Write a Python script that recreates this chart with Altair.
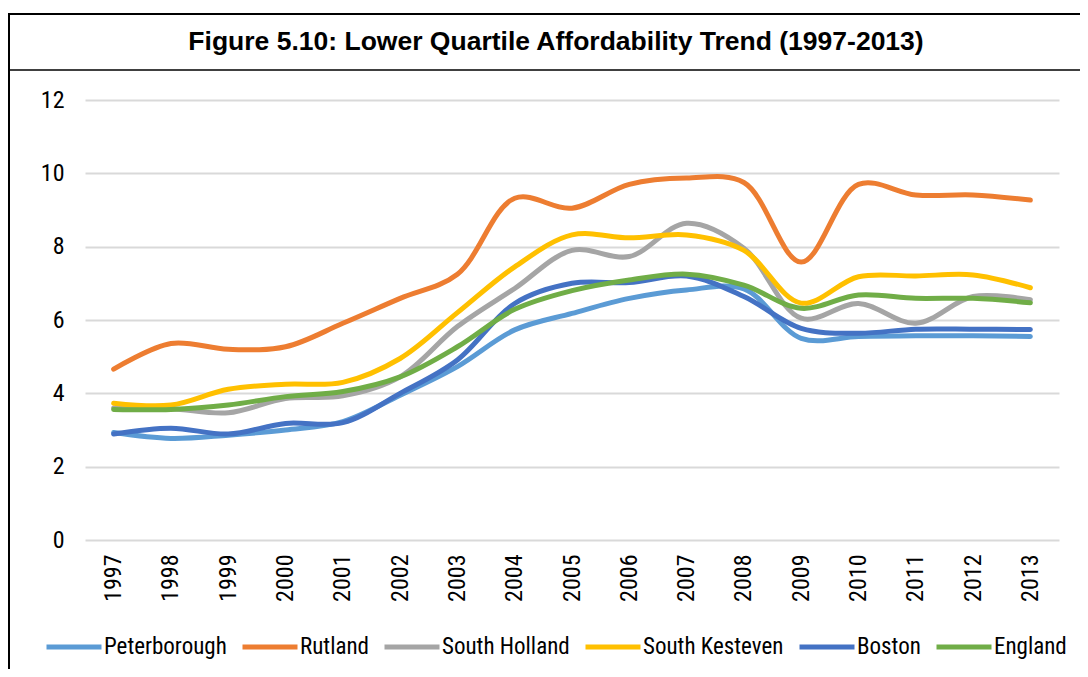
import altair as alt
import pandas as pd

years = [str(y) for y in range(1997, 2014)]

peterborough = [2.93, 2.77, 2.86, 3.0, 3.23, 3.95, 4.73, 5.73, 6.18, 6.59, 6.82, 6.85, 5.5, 5.55, 5.57, 5.57, 5.55]
rutland = [4.66, 5.36, 5.2, 5.27, 5.91, 6.59, 7.25, 9.32, 9.05, 9.7, 9.87, 9.75, 7.58, 9.7, 9.41, 9.41, 9.27]
south_holland = [3.6, 3.58, 3.47, 3.86, 3.93, 4.45, 5.82, 6.86, 7.9, 7.73, 8.64, 7.96, 6.05, 6.45, 5.91, 6.64, 6.55]
south_kesteven = [3.73, 3.68, 4.11, 4.25, 4.3, 4.95, 6.2, 7.45, 8.32, 8.24, 8.32, 7.9, 6.46, 7.18, 7.2, 7.23, 6.88]
boston = [2.89, 3.05, 2.89, 3.18, 3.2, 4.0, 4.91, 6.45, 7.0, 7.02, 7.2, 6.64, 5.77, 5.64, 5.75, 5.75, 5.74]
england = [3.56, 3.56, 3.68, 3.91, 4.05, 4.45, 5.27, 6.29, 6.8, 7.09, 7.25, 6.95, 6.32, 6.68, 6.59, 6.59, 6.47]

series_names = ["Peterborough", "Rutland", "South Holland", "South Kesteven", "Boston", "England"]
series_values = [peterborough, rutland, south_holland, south_kesteven, boston, england]
series_colors = ["#5B9BD5", "#ED7D31", "#A5A5A5", "#FFC000", "#4472C4", "#70AD47"]

title_text = "Figure 5.10: Lower Quartile Affordability Trend (1997-2013)"

rows = []
for i, (name, vals) in enumerate(zip(series_names, series_values)):
    for y, v in zip(years, vals):
        rows.append({"Year": y, "Area": name, "Value": v, "order": i})
df = pd.DataFrame(rows)

NARROW = "Liberation Sans Narrow, Arial Narrow, Roboto Condensed, Liberation Sans, sans-serif"

lines = alt.Chart(df).mark_line(
    strokeWidth=5, strokeCap="round", strokeJoin="round", interpolate="catmull-rom"
).encode(
    x=alt.X("Year:O", sort=years, scale=alt.Scale(type="point", padding=0.5),
            axis=alt.Axis(title=None, labelAngle=-90, labelPadding=14, ticks=False,
                          domain=False, grid=False, labelFont=NARROW, labelFontSize=24,
                          labelColor="black")),
    y=alt.Y("Value:Q", scale=alt.Scale(domain=[0, 12], nice=False, zero=True),
            axis=alt.Axis(title=None, values=[0, 2, 4, 6, 8, 10, 12], ticks=False,
                          domain=False, labelPadding=21, grid=True, labelFont=NARROW,
                          labelFontSize=24, labelColor="black", gridColor="#D9D9D9",
                          gridWidth=2)),
    color=alt.Color("Area:N", sort=series_names,
                    scale=alt.Scale(domain=series_names, range=series_colors),
                    legend=alt.Legend(title=None, orient="none", legendX=-41, legendY=517,
                                      direction="horizontal", columns=6,
                                      symbolType="stroke", symbolSize=3025,
                                      symbolStrokeWidth=5, labelFontSize=23,
                                      labelFont=NARROW, labelColor="black", labelOffset=0,
                                      columnPadding=5, padding=0)),
    order=alt.Order("order:Q"),
    detail="Area:N",
)

frame_df = pd.DataFrame({"k": [0]})
top_line = alt.Chart(frame_df).mark_rule(color="black", strokeWidth=2).encode(
    x=alt.value(-77), x2=alt.value(995), y=alt.value(-86))
under_line = alt.Chart(frame_df).mark_rule(color="black", strokeWidth=1.5).encode(
    x=alt.value(-77), x2=alt.value(995), y=alt.value(-30))
left_line = alt.Chart(frame_df).mark_rule(color="black", strokeWidth=2).encode(
    x=alt.value(-76), y=alt.value(-87), y2=alt.value(570))

title = alt.Chart(pd.DataFrame({"t": [title_text]})).mark_text(
    font="Liberation Sans, Arial, sans-serif", fontSize=26.5, fontWeight="bold",
    color="black", align="center", baseline="middle"
).encode(text="t:N", x=alt.value(471), y=alt.value(-58))

chart = alt.layer(lines, top_line, under_line, left_line, title).properties(
    width=974, height=440,
    autosize=alt.AutoSizeParams(type="none"),
    padding={"left": 77, "top": 92, "right": 21, "bottom": 129},
    background="white",
).configure_view(stroke=None)

chart.save("out.html", embed_options={"renderer": "svg", "actions": False})
